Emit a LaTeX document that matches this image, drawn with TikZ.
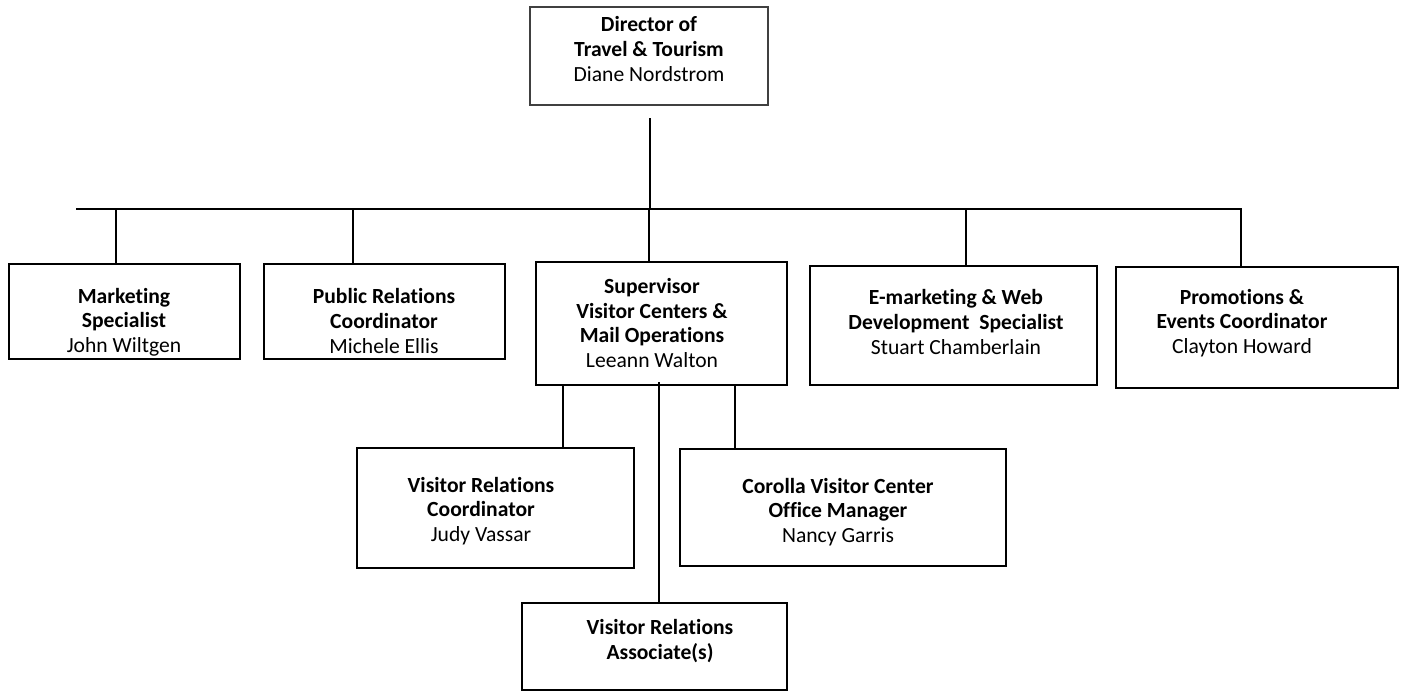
\documentclass[tikz,border=0pt]{standalone}
\usepackage{fontspec}
\setmainfont{Carlito}[Ligatures=NoCommon]
\begin{document}
\begin{tikzpicture}[x=0.5pt,y=-0.5pt,
  box/.style={draw, line width=1pt, rectangle, inner sep=0pt},
  topbox/.style={draw=black!75, line width=0.7pt, rectangle, inner sep=0pt},
  txt/.style={align=center, inner sep=0pt, font=\fontsize{10.8pt}{12.3pt}\selectfont},
  conn/.style={line width=1pt}]
\useasboundingbox (0,0) rectangle (1404,696);
% boxes
\node[topbox, minimum width=119pt, minimum height=49pt] (dir) at (649,56) {};
\node[box, minimum width=115.5pt, minimum height=47.5pt] (mkt) at (124.5,311.5) {};
\node[box, minimum width=120.5pt, minimum height=47.5pt] (pr) at (384.5,311.5) {};
\node[box, minimum width=125.5pt, minimum height=61.5pt] (sup) at (661.5,323.5) {};
\node[box, minimum width=143.5pt, minimum height=59.5pt] (emk) at (953.5,325.5) {};
\node[box, minimum width=141pt, minimum height=60.5pt] (pro) at (1257,327.5) {};
\node[box, minimum width=138.5pt, minimum height=60pt] (vrc) at (495.5,508) {};
\node[box, minimum width=163pt, minimum height=58.5pt] (cor) at (843,507.5) {};
\node[box, minimum width=132.5pt, minimum height=43.5pt] (vra) at (654.5,646.5) {};
% texts
\node[txt] (dirT) at (649,49) {\textbf{Director of}\\\textbf{Travel \& Tourism}\\Diane Nordstrom};
\node[txt] (mktT) at (124,322) {\textbf{Marketing}\\\textbf{Specialist}\\John Wiltgen};
\node[txt] (prT) at (384,321) {\textbf{Public Relations}\\\textbf{Coordinator}\\Michele Ellis};
\node[txt] (supT) at (652,323) {\textbf{Supervisor}\\\textbf{Visitor Centers \&}\\\textbf{Mail Operations}\\Leeann Walton};
\node[txt] (emkT) at (956,322) {\textbf{E-marketing \& Web}\\\textbf{Development\ \ Specialist}\\Stuart Chamberlain};
\node[txt] (proT) at (1242,323) {\textbf{Promotions \&}\\\textbf{Events Coordinator}\\Clayton Howard};
\node[txt] (vrcT) at (481,511) {\textbf{Visitor Relations}\\\textbf{Coordinator}\\Judy Vassar};
\node[txt] (corT) at (838,512) {\textbf{Corolla Visitor Center}\\\textbf{Office Manager}\\Nancy Garris};
\node[txt] (vraT) at (660,641) {\textbf{Visitor Relations}\\\textbf{Associate(s)}};
% connectors
\coordinate (dirS) at (650,118);
\coordinate (busL) at (76,209);
\coordinate (busM) at (650,209);
\coordinate (busR) at (1241,209);
\coordinate (dMkt) at (116,209);
\coordinate (dPr) at (353,209);
\coordinate (dSup) at (649,209);
\coordinate (dEmk) at (966,209);
\coordinate (xVrc) at (563,0);
\coordinate (xCor) at (735,0);
\coordinate (sVra) at (659,382);
\draw[conn] (dirS) -- (busM);
\draw[conn] (busL) -- (busR) -- (busR |- pro.north);
\draw[conn] (dMkt) -- (dMkt |- mkt.north);
\draw[conn] (dPr) -- (dPr |- pr.north);
\draw[conn] (dSup) -- (dSup |- sup.north);
\draw[conn] (dEmk) -- (dEmk |- emk.north);
\draw[conn] (xVrc |- sup.south) -- (xVrc |- vrc.north);
\draw[conn] (xCor |- sup.south) -- (xCor |- cor.north);
\draw[conn] (sVra) -- (sVra |- vra.north);
\end{tikzpicture}
\end{document}
